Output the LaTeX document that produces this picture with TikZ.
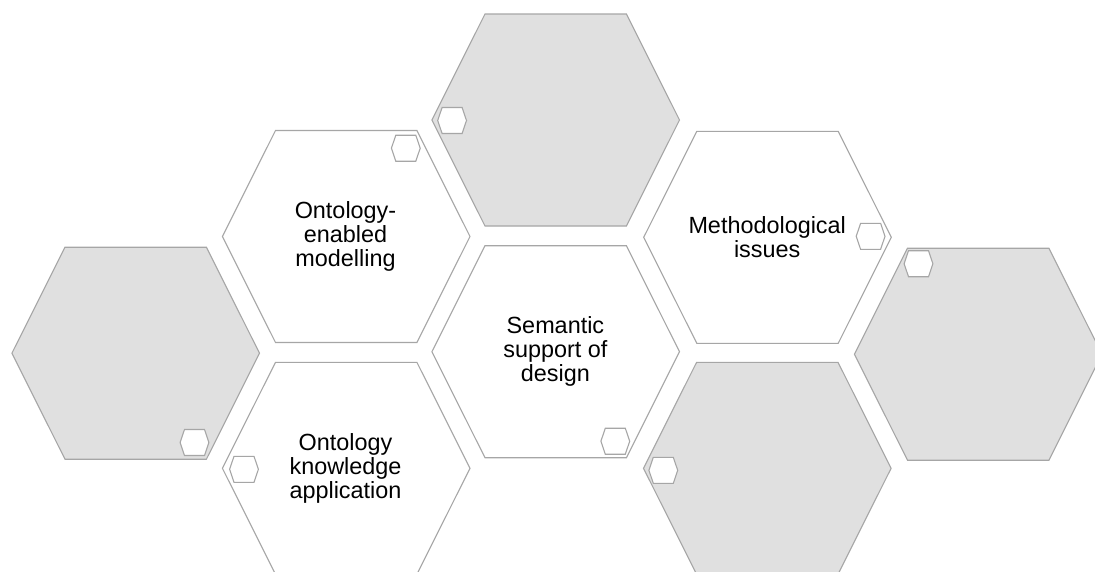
\documentclass[tikz,border=0pt]{standalone}
\usepackage{fontspec}
\setmainfont{Liberation Sans}
\definecolor{hexline}{RGB}{166,166,166}
\definecolor{hexgray}{RGB}{224,224,224}
\newcommand{\bighexpath}[2]{(#1-123.8,#2) -- (#1-70.7,#2-106) -- (#1+70.7,#2-106) -- (#1+123.8,#2) -- (#1+70.7,#2+106) -- (#1-70.7,#2+106) -- cycle}
\newcommand{\smallhexpath}[2]{(#1-14.4,#2) -- (#1-10,#2-13) -- (#1+10,#2-13) -- (#1+14.4,#2) -- (#1+10,#2+13) -- (#1-10,#2+13) -- cycle}
\tikzset{
  whitehex/.style={draw=hexline, line width=1.1pt, fill=white, line join=miter},
  grayhex/.style={draw=hexline, line width=1.1pt, fill=hexgray, line join=miter},
  minihex/.style={draw=hexline, line width=1.1pt, fill=white, line join=miter},
  hextext/.style={align=center, inner sep=0pt, font=\fontsize{23.4}{24.2}\selectfont, text=black}
}
\begin{document}
\begin{tikzpicture}[x=1pt,y=-1pt]
\useasboundingbox (0,0) rectangle (1095,571);
\clip (0,0) rectangle (1095,571);
% big hexagons
\draw[grayhex]  \bighexpath{555.7}{120};
\draw[whitehex] \bighexpath{346.2}{236.5};
\draw[whitehex] \bighexpath{767.5}{237.3};
\draw[grayhex]  \bighexpath{135.7}{353.2};
\draw[whitehex] \bighexpath{555.7}{351.7};
\draw[grayhex]  \bighexpath{978.2}{354.2};
\draw[whitehex] \bighexpath{346.2}{468.3};
\draw[grayhex]  \bighexpath{767.3}{468.3};
% small hexagons
\draw[minihex] \smallhexpath{452.1}{120.5};
\draw[minihex] \smallhexpath{405.8}{148.2};
\draw[minihex] \smallhexpath{870.6}{236.3};
\draw[minihex] \smallhexpath{918.5}{263.7};
\draw[minihex] \smallhexpath{194.5}{442.5};
\draw[minihex] \smallhexpath{244.0}{469.3};
\draw[minihex] \smallhexpath{615.3}{441.2};
\draw[minihex] \smallhexpath{663.3}{470.3};
% texts
\node[hextext] (oem) at (345.5,236.5) {Ontology-\\enabled\\modelling};
\node[hextext] (meth) at (767.2,237.3) {Methodological\\issues};
\node[hextext] (sem) at (555.4,351.7) {Semantic\\support of\\design};
\node[hextext] (oka) at (345.5,468.3) {Ontology\\knowledge\\application};
\end{tikzpicture}
\end{document}
